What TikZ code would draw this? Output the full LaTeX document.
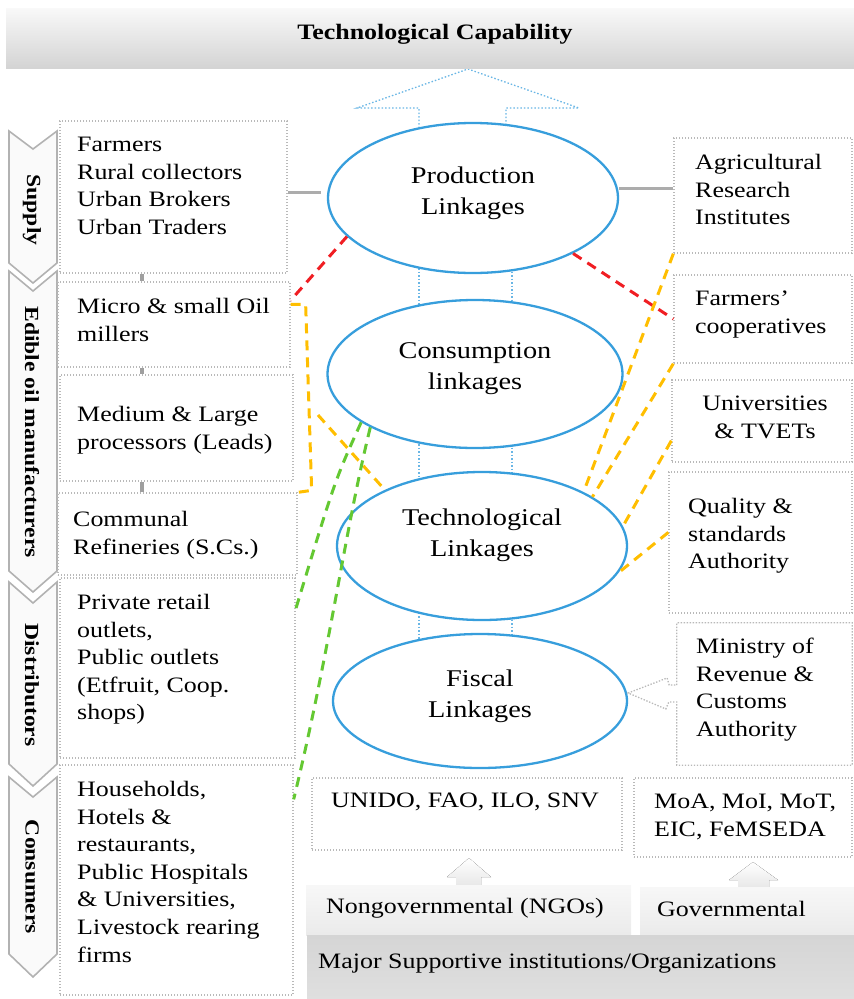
\documentclass[tikz,border=0pt]{standalone}
\usepackage{fontspec}
\setmainfont{Liberation Serif}[FakeStretch=1.18]
\usetikzlibrary{shapes.geometric,backgrounds}

\definecolor{linkblue}{RGB}{55,158,220}
\definecolor{linkred}{RGB}{240,30,35}
\definecolor{linkyellow}{RGB}{255,190,0}
\definecolor{linkgreen}{RGB}{100,200,50}

\newcommand\boxfont{\fontsize{22}{27.6}\selectfont}
\newcommand\linkfont{\fontsize{24}{31}\selectfont}
\newcommand\stagefont{\fontsize{20}{24}\selectfont\bfseries}
\newcommand\headfont{\fontsize{22}{26}\selectfont\bfseries}

\tikzset{
  actorbox/.style={draw=gray!55, dash pattern=on 1.4pt off 1.6pt, line width=1.3pt, inner sep=0pt},
  actortext/.style={anchor=north west, align=left, inner sep=0pt, font=\boxfont},
  linkage/.style={ellipse, draw=linkblue, line width=2.3pt, fill=white, inner sep=0pt,
    align=center, font=\linkfont, text depth=15pt},
  linkdot/.style={draw=linkblue!75, dash pattern=on 1.5pt off 2pt, line width=1.3pt},
  reddash/.style={draw=linkred, line width=3pt, dash pattern=on 10pt off 7pt},
  yellowdash/.style={draw=linkyellow, line width=3pt, dash pattern=on 10pt off 7pt},
  greendash/.style={draw=linkgreen, line width=3pt, dash pattern=on 10pt off 7pt},
  tieline/.style={draw=gray!65, line width=3pt},
  chainline/.style={draw=gray!75, line width=3.5pt},
  stagearrow/.style={fill=gray!4, draw=gray!60, line width=1.6pt},
  stagetext/.style={rotate=-90, font=\stagefont, inner sep=0pt},
  greybar/.style={inner sep=0pt, top color=gray!6, bottom color=gray!16},
}

\begin{document}
\begin{tikzpicture}[x=1pt, y=-1pt]
  \useasboundingbox (0,0) rectangle (854,999);
  \coordinate (leftrail) at (419,0);
  \coordinate (rightrail) at (512,0);
  \coordinate (spine) at (142,0);

  % heading
  \node[greybar, top color=gray!5, bottom color=gray!34, minimum width=848pt, minimum height=60pt] (capability) at (430,38) {};
  \node[anchor=base, font=\headfont, inner sep=0pt] (capabilitytext) at (435,39) {Technological Capability};

  % stages of the chain
  \draw[stagearrow] (9,131) -- (33,149) -- (57,131) -- (57,263) -- (33,283) -- (9,263) -- cycle;
  \draw[stagearrow] (9,271) -- (33,291) -- (57,271) -- (57,571) -- (33,592) -- (9,571) -- cycle;
  \draw[stagearrow] (9,582) -- (33,603) -- (57,582) -- (57,764) -- (33,786) -- (9,764) -- cycle;
  \draw[stagearrow] (9,777) -- (33,797) -- (57,777) -- (57,954) -- (33,977) -- (9,954) -- cycle;
  \node[stagetext] (supplylabel) at (32,210) {Supply};
  \node[stagetext] (ediblelabel) at (32,432) {Edible oil manufacturers};
  \node[stagetext] (distriblabel) at (32,685) {Distributors};
  \node[stagetext] (consumerlabel) at (32,877) {Consumers};

  % actors on the left
  \node[actorbox, minimum width=227pt, minimum height=152pt] (supply) at (173.5,197) {};
  \node[actorbox, minimum width=232pt, minimum height=85pt] (micro) at (174,324.5) {};
  \node[actorbox, minimum width=233pt, minimum height=106pt] (medium) at (176.5,428) {};
  \node[actorbox, minimum width=239pt, minimum height=82pt] (communal) at (177.5,534) {};
  \node[actorbox, minimum width=235pt, minimum height=180pt] (distrib) at (177.5,668) {};
  \node[actorbox, minimum width=233pt, minimum height=230pt] (consumer) at (176.5,880) {};
  \node[actortext] (supplytext) at (77,137) {Farmers\\Rural collectors\\Urban Brokers\\Urban Traders};
  \node[actortext] (microtext) at (77,298) {Micro \& small Oil\\millers};
  \node[actortext] (mediumtext) at (77,406) {Medium \& Large\\processors (Leads)};
  \node[actortext] (communaltext) at (73,511) {Communal\\Refineries (S.Cs.)};
  \node[actortext] (distribtext) at (77,594) {Private retail\\outlets,\\Public outlets\\(Etfruit, Coop.\\shops)};
  \node[actortext] (consumertext) at (77,781) {Households,\\Hotels \&\\restaurants,\\Public Hospitals\\\& Universities,\\Livestock rearing\\firms};
  \foreach \a/\b in {supply/micro, micro/medium, medium/communal}
    \draw[chainline] (\a.south -| spine) -- (\b.north -| spine);

  % actors on the right
  \node[actorbox, minimum width=178pt, minimum height=115pt] (agri) at (763,195.5) {};
  \node[actorbox, minimum width=178pt, minimum height=88pt] (farmcoop) at (763,319) {};
  \node[actorbox, minimum width=180pt, minimum height=82pt] (univ) at (762,421) {};
  \node[actorbox, minimum width=183pt, minimum height=141pt] (quality) at (760.5,542.5) {};
  \node[inner sep=0pt, minimum width=175pt, minimum height=142pt] (ministry) at (764.5,694) {};
  \node[actortext] (agritext) at (695,154) {Agricultural\\Research\\Institutes};
  \node[actortext] (farmcooptext) at (695,291) {Farmers’\\cooperatives};
  \node[actortext, anchor=north, align=center] (univtext) at (765,396) {Universities\\\& TVETs};
  \node[actortext] (qualitytext) at (688,498) {Quality \&\\standards\\Authority};
  \node[actortext] (ministrytext) at (696,638) {Ministry of\\Revenue \&\\Customs\\Authority};

  % linkages
  \node[linkage, minimum width=290pt, minimum height=150pt] (prodlink) at (473,198) {Production\\Linkages};
  \node[linkage, minimum width=295pt, minimum height=148pt] (conslink) at (475,374) {Consumption\\linkages};
  \node[linkage, minimum width=290pt, minimum height=148pt, text depth=26pt] (techlink) at (482,546) {Technological\\Linkages};
  \node[linkage, minimum width=294pt, minimum height=134pt] (fisclink) at (480,701) {Fiscal\\Linkages};

  \begin{scope}[on background layer]
    \draw[linkdot] (419,198) -- (419,108) -- (357,108) -- (468,69) -- (579,108) -- (506,108) -- (506,198);
    \foreach \a/\b in {prodlink/conslink, conslink/techlink, techlink/fisclink} {
      \draw[linkdot] (\a.center -| leftrail) -- (\b.center -| leftrail);
      \draw[linkdot] (\a.center -| rightrail) -- (\b.center -| rightrail);
    }
  \end{scope}

  % ministry callout
  \draw[actorbox] ([yshift=9pt]ministry.west) -- (ministry.north west) -- (ministry.north east)
    -- (ministry.south east) -- (ministry.south west) -- ([yshift=-8pt]ministry.west)
    -- ++(-8,0) -- ++(-3,7) -- ([yshift=8pt]fisclink.east) -- ++(39,-15) -- ++(2,7) -- cycle;

  \draw[tieline] ([yshift=5pt]supply.east) -- ([xshift=-6pt,yshift=6pt]prodlink.west);
  \draw[tieline] ([yshift=10pt]prodlink.east) -- ([yshift=7.5pt]agri.west);

  \draw[reddash] (prodlink.197) -- ([yshift=-19pt]micro.north east);
  \draw[reddash] (prodlink.-29) -- (farmcoop.west);

  \draw[yellowdash] ([yshift=-23pt]micro.north east) -- ++(15,0) -- ++(6,186) -- (communal.north east);
  \coordinate (medturn) at (318,415);
  \draw[yellowdash] (medturn) -- (techlink.150);
  \draw[yellowdash] (agri.south west) -- (techlink.28);
  \draw[yellowdash] (farmcoop.south west) -- (techlink.24);
  \draw[yellowdash] ([yshift=22pt]univ.south west) -- (techlink.8);
  \draw[yellowdash] ([yshift=-61pt]quality.north west) -- (techlink.-11);

  \draw[greendash] (conslink.203) .. controls (335,480) .. ([yshift=-32pt]distrib.north east);
  \draw[greendash] (conslink.207) .. controls (345,530) and (330,650) .. ([yshift=-35pt]consumer.north east);

  % supportive institutions
  \node[actorbox, minimum width=310pt, minimum height=72pt] (ngobox) at (467,814) {};
  \node[actorbox, minimum width=218pt, minimum height=79pt] (govbox) at (743,817.5) {};
  \node[actortext] (ngotext) at (331,793) {UNIDO, FAO, ILO, SNV};
  \node[actortext] (govtext) at (654,794) {MoA, MoI, MoT,\\EIC, FeMSEDA};

  \fill[top color=white, bottom color=gray!18] (456,885) -- (456,877) -- (447,877) -- (469,858)
    -- (491,877) -- (481,877) -- (481,885) -- cycle;
  \fill[top color=white, bottom color=gray!18] (738,887) -- (738,880) -- (729,880) -- (753,862)
    -- (778,880) -- (769,880) -- (769,887) -- cycle;

  \node[greybar, minimum width=325pt, minimum height=50pt] (ngobar) at (468.5,910) {};
  \node[greybar, minimum width=214pt, minimum height=48pt] (govbar) at (747,911) {};
  \node[greybar, top color=gray!33, bottom color=gray!25, minimum width=547pt, minimum height=64pt] (majorbar) at (580.5,967) {};
  \node[actortext] (ngobartext) at (326,898) {Nongovernmental (NGOs)};
  \node[actortext] (govbartext) at (657,901) {Governmental};
  \node[actortext] (majortext) at (318,954) {Major Supportive institutions/Organizations};
\end{tikzpicture}
\end{document}
